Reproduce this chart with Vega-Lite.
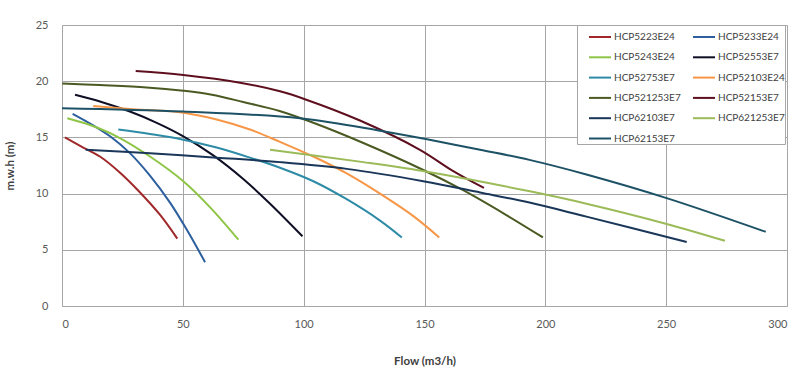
{
  "$schema": "https://vega.github.io/schema/vega-lite/v6.json",
  "autosize": "none",
  "width": 725,
  "height": 281,
  "padding": {"left": 62, "top": 25, "right": 13, "bottom": 66},
  "background": "white",
  "config": {
    "view": {"stroke": null},
    "font": "Lato",
    "axis": {"labelFont": "Lato", "titleFont": "Lato", "labelColor": "#595959", "titleColor": "#404040", "labelFontSize": 11, "titleFontSize": 11.5, "gridColor": "#A6A6A6", "gridOpacity": 1, "domainColor": "#A6A6A6", "ticks": false}
  },
  "data": {"values": [
    {"s":"HCP5223E24","q":1.2,"h":15.0},{"s":"HCP5223E24","q":8.8,"h":14.1},{"s":"HCP5223E24","q":15.7,"h":13.3},{"s":"HCP5223E24","q":23.8,"h":11.9},{"s":"HCP5223E24","q":32.3,"h":10.1},{"s":"HCP5223E24","q":40.6,"h":8.1},{"s":"HCP5223E24","q":47.7,"h":6.0},
    {"s":"HCP5233E24","q":4.4,"h":17.1},{"s":"HCP5233E24","q":12.7,"h":16.1},{"s":"HCP5233E24","q":19.9,"h":15.1},{"s":"HCP5233E24","q":28.1,"h":13.6},{"s":"HCP5233E24","q":36.4,"h":11.6},{"s":"HCP5233E24","q":44.7,"h":9.2},{"s":"HCP5233E24","q":51.6,"h":6.8},{"s":"HCP5233E24","q":59.2,"h":3.9},
    {"s":"HCP5243E24","q":2.2,"h":16.7},{"s":"HCP5243E24","q":11.6,"h":16.1},{"s":"HCP5243E24","q":22.6,"h":15.1},{"s":"HCP5243E24","q":36.4,"h":13.3},{"s":"HCP5243E24","q":50.2,"h":11.1},{"s":"HCP5243E24","q":61.2,"h":8.8},{"s":"HCP5243E24","q":73.0,"h":5.9},
    {"s":"HCP52553E7","q":5.4,"h":18.8},{"s":"HCP52553E7","q":15.7,"h":18.2},{"s":"HCP52553E7","q":28.1,"h":17.3},{"s":"HCP52553E7","q":39.2,"h":16.3},{"s":"HCP52553E7","q":50.2,"h":15.1},{"s":"HCP52553E7","q":62.6,"h":13.4},{"s":"HCP52553E7","q":75.0,"h":11.3},{"s":"HCP52553E7","q":86.1,"h":9.1},{"s":"HCP52553E7","q":99.5,"h":6.2},
    {"s":"HCP52753E7","q":23.3,"h":15.7},{"s":"HCP52753E7","q":36.4,"h":15.3},{"s":"HCP52753E7","q":50.2,"h":14.8},{"s":"HCP52753E7","q":64.0,"h":14.1},{"s":"HCP52753E7","q":77.8,"h":13.2},{"s":"HCP52753E7","q":90.2,"h":12.3},{"s":"HCP52753E7","q":104,"h":11.1},{"s":"HCP52753E7","q":117.8,"h":9.5},{"s":"HCP52753E7","q":131.6,"h":7.6},{"s":"HCP52753E7","q":140.6,"h":6.1},
    {"s":"HCP52103E24","q":12.9,"h":17.8},{"s":"HCP52103E24","q":29.5,"h":17.5},{"s":"HCP52103E24","q":50.2,"h":17.2},{"s":"HCP52103E24","q":64.0,"h":16.6},{"s":"HCP52103E24","q":77.8,"h":15.7},{"s":"HCP52103E24","q":90.2,"h":14.6},{"s":"HCP52103E24","q":104,"h":13.3},{"s":"HCP52103E24","q":117.8,"h":11.8},{"s":"HCP52103E24","q":131.6,"h":10.0},{"s":"HCP52103E24","q":145.4,"h":8.0},{"s":"HCP52103E24","q":156.1,"h":6.1},
    {"s":"HCP521253E7","q":0.1,"h":19.8},{"s":"HCP521253E7","q":15.7,"h":19.66},{"s":"HCP521253E7","q":35,"h":19.45},{"s":"HCP521253E7","q":50.2,"h":19.15},{"s":"HCP521253E7","q":62,"h":18.8},{"s":"HCP521253E7","q":75,"h":18.15},{"s":"HCP521253E7","q":90,"h":17.35},{"s":"HCP521253E7","q":104,"h":16.3},{"s":"HCP521253E7","q":124.7,"h":14.5},{"s":"HCP521253E7","q":149.5,"h":12.1},{"s":"HCP521253E7","q":166,"h":10.3},{"s":"HCP521253E7","q":183,"h":8.2},{"s":"HCP521253E7","q":199,"h":6.1},
    {"s":"HCP52153E7","q":30.5,"h":20.9},{"s":"HCP52153E7","q":50.2,"h":20.55},{"s":"HCP52153E7","q":73.7,"h":19.87},{"s":"HCP52153E7","q":90.2,"h":19.1},{"s":"HCP52153E7","q":100.5,"h":18.4},{"s":"HCP52153E7","q":123.3,"h":16.5},{"s":"HCP52153E7","q":148.1,"h":13.9},{"s":"HCP52153E7","q":161.9,"h":12.0},{"s":"HCP52153E7","q":174.6,"h":10.5},
    {"s":"HCP62103E7","q":9.8,"h":13.9},{"s":"HCP62103E7","q":36.4,"h":13.6},{"s":"HCP62103E7","q":64,"h":13.2},{"s":"HCP62103E7","q":90.2,"h":12.8},{"s":"HCP62103E7","q":117.8,"h":12.2},{"s":"HCP62103E7","q":149.5,"h":11.1},{"s":"HCP62103E7","q":173,"h":10.1},{"s":"HCP62103E7","q":193.4,"h":9.2},{"s":"HCP62103E7","q":217,"h":7.95},{"s":"HCP62103E7","q":258.5,"h":5.7},
    {"s":"HCP621253E7","q":86.1,"h":13.9},{"s":"HCP621253E7","q":124.7,"h":12.8},{"s":"HCP621253E7","q":152.3,"h":11.9},{"s":"HCP621253E7","q":193.6,"h":10.2},{"s":"HCP621253E7","q":217,"h":9.1},{"s":"HCP621253E7","q":250.2,"h":7.3},{"s":"HCP621253E7","q":274.3,"h":5.8},
    {"s":"HCP62153E7","q":0,"h":17.6},{"s":"HCP62153E7","q":50.2,"h":17.3},{"s":"HCP62153E7","q":98.5,"h":16.7},{"s":"HCP62153E7","q":131.6,"h":15.6},{"s":"HCP62153E7","q":149.5,"h":14.9},{"s":"HCP62153E7","q":173,"h":13.9},{"s":"HCP62153E7","q":193.4,"h":13.0},{"s":"HCP62153E7","q":217,"h":11.7},{"s":"HCP62153E7","q":250.2,"h":9.6},{"s":"HCP62153E7","q":291.2,"h":6.6}
  ]},
  "mark": {"type": "line", "interpolate": "catmull-rom", "strokeWidth": 2},
  "encoding": {
    "x": {"field": "q", "type": "quantitative", "scale": {"domain": [0, 300], "nice": false},
      "axis": {"title": "Flow (m3/h)", "values": [0,50,100,150,200,250,300], "labelPadding": 12, "titlePadding": 26, "titleFontWeight": "bold", "domain": true}},
    "y": {"field": "h", "type": "quantitative", "scale": {"domain": [0, 25], "nice": false},
      "axis": {"title": "m.w.h (m)", "values": [0,5,10,15,20,25], "labelPadding": 14, "titlePadding": 20, "titleFontWeight": "bold", "domain": true}},
    "color": {"field": "s", "type": "nominal",
      "scale": {
        "domain": ["HCP5223E24","HCP5233E24","HCP5243E24","HCP52553E7","HCP52753E7","HCP52103E24","HCP521253E7","HCP52153E7","HCP62103E7","HCP621253E7","HCP62153E7"],
        "range": ["#A0282A","#2C5F9E","#8FC547","#0E0E24","#2E8BA6","#F79646","#4A5A22","#5E0F1E","#1A3658","#9BBB59","#1D5266"]
      },
      "legend": {"title": null, "orient": "none", "legendX": 515, "legendY": 0, "columns": 2, "direction": "horizontal",
        "symbolType": "stroke", "symbolSize": 484, "symbolStrokeWidth": 2, "symbolOffset": 11,
        "labelFont": "Lato", "labelFontSize": 10, "labelColor": "#404040", "labelOffset": 2,
        "columnPadding": -3, "rowPadding": 3.3, "padding": 0, "strokeColor": "#A6A6A6", "fillColor": "white", "labelLimit": 200}
    }
  }
}
